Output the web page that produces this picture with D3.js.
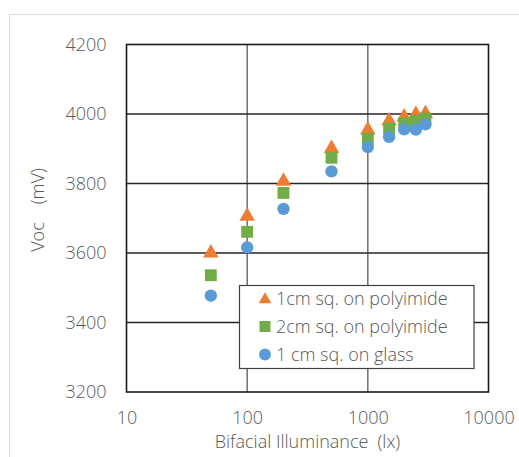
<!DOCTYPE html>
<html>
<head>
<meta charset="utf-8">
<script src="https://cdn.jsdelivr.net/npm/d3@7"></script>
<style>
  html, body { margin: 0; padding: 0; background: #fff; }
  svg { display: block; }
  text { font-family: "Open Sans", "Noto Sans", sans-serif; font-weight: 300; fill: #595959; }
</style>
</head>
<body>
<script>
// ---- data ----
const illuminance = [50, 100, 200, 500, 1000, 1500, 2000, 2500, 3000];
const voc1cmPolyimide = [3604, 3710, 3811, 3905, 3958, 3984, 3996, 4003, 4005];
const voc2cmPolyimide = [3536, 3661, 3773, 3874, 3929, 3958, 3973, 3980, 3987];
const voc1cmGlass     = [3477, 3616, 3727, 3835, 3905, 3934, 3956, 3955, 3970];
const seriesNames = ["1cm sq. on polyimide", "2cm sq. on polyimide", "1 cm sq. on glass"];
const xTicks = [10, 100, 1000, 10000];
const yTicks = [3200, 3400, 3600, 3800, 4000, 4200];
const xTitle = "Bifacial Illuminance\u2002(lx)";
const yTitle = "Voc\u2003(mV)";

const W = 519, H = 457;
const plot = { left: 126.5, right: 488.5, top: 44.5, bottom: 392 };
const FS = 18;

const svg = d3.select("body").append("svg").attr("width", W).attr("height", H);

// outer chart-area border
svg.append("rect").attr("x", 9.5).attr("y", 14.5).attr("width", 520).attr("height", 460)
  .attr("fill", "#fff").attr("stroke", "#d9d9d9").attr("stroke-width", 1);

const x = d3.scaleLog().domain([10, 10000]).range([plot.left, plot.right]);
const y = d3.scaleLinear().domain([3200, 4200]).range([plot.bottom, plot.top]);

// gridlines
const g = svg.append("g");
g.selectAll("line.vg").data(xTicks.slice(1, -1)).join("line")
  .attr("x1", d => x(d)).attr("x2", d => x(d))
  .attr("y1", plot.top).attr("y2", plot.bottom)
  .attr("stroke", "#595959").attr("stroke-width", 1.3);
g.selectAll("line.hg").data(yTicks.slice(1, -1)).join("line")
  .attr("x1", plot.left).attr("x2", plot.right)
  .attr("y1", d => y(d)).attr("y2", d => y(d))
  .attr("stroke", "#262626").attr("stroke-width", 1.3);

// plot border
svg.append("rect").attr("x", plot.left).attr("y", plot.top)
  .attr("width", plot.right - plot.left).attr("height", plot.bottom - plot.top)
  .attr("fill", "none").attr("stroke", "#1a1a1a").attr("stroke-width", 1.6);

// axes (labels only)
const xAxis = d3.axisBottom(x).tickValues(xTicks).tickFormat(d3.format("d")).tickSize(0).tickPadding(0);
const xa = svg.append("g").attr("transform", `translate(0,${plot.bottom + 26})`).call(xAxis);
xa.select(".domain").remove();
xa.selectAll("text").attr("font-size", FS).attr("fill", "#595959")
  .attr("font-family", '"Open Sans", sans-serif').attr("font-weight", 300).attr("dy", "0.32em").attr("y", 0);

const yAxis = d3.axisLeft(y).tickValues(yTicks).tickFormat(d3.format("d")).tickSize(0).tickPadding(0);
const ya = svg.append("g").attr("transform", `translate(${plot.left - 20},0)`).call(yAxis);
ya.select(".domain").remove();
ya.selectAll("text").attr("font-size", FS).attr("fill", "#595959")
  .attr("font-family", '"Open Sans", sans-serif').attr("font-weight", 300);

// axis titles
svg.append("text").attr("x", (plot.left + plot.right) / 2).attr("y", 448)
  .attr("text-anchor", "middle").attr("font-size", FS).text(xTitle);
svg.append("text").attr("transform", `translate(44,210) rotate(-90)`)
  .attr("text-anchor", "middle").attr("font-size", FS).text(yTitle);

// markers
const colors = ["#ED7D31", "#70AD47", "#5B9BD5"];
const shapes = [d3.symbolTriangle, d3.symbolSquare, d3.symbolCircle];
const sizes = [105, 140, 120];
const allSeries = [voc1cmPolyimide, voc2cmPolyimide, voc1cmGlass];

allSeries.forEach((vals, i) => {
  svg.append("g").selectAll("path").data(illuminance.map((xv, j) => [xv, vals[j]])).join("path")
    .attr("d", d3.symbol().type(shapes[i]).size(sizes[i]))
    .attr("transform", d => `translate(${x(d[0])},${y(d[1]) + (i === 0 ? 1.5 : 0)})`)
    .attr("fill", colors[i]);
});

// legend
const lg = svg.append("g");
lg.append("rect").attr("x", 239.5).attr("y", 285.5).attr("width", 234.5).attr("height", 83)
  .attr("fill", "#fff").attr("stroke", "#404040").attr("stroke-width", 1.2);
const rowsY = [298.5, 326.5, 354.5];
const legSizes = [70, 120, 110];
seriesNames.forEach((name, i) => {
  lg.append("path").attr("d", d3.symbol().type(shapes[i]).size(legSizes[i]))
    .attr("transform", `translate(265,${rowsY[i] + (i === 0 ? 1 : 0)})`).attr("fill", colors[i]);
  lg.append("text").attr("x", 276).attr("y", rowsY[i]).attr("dy", "0.35em")
    .attr("font-size", FS).text(name);
});
</script>
</body>
</html>
